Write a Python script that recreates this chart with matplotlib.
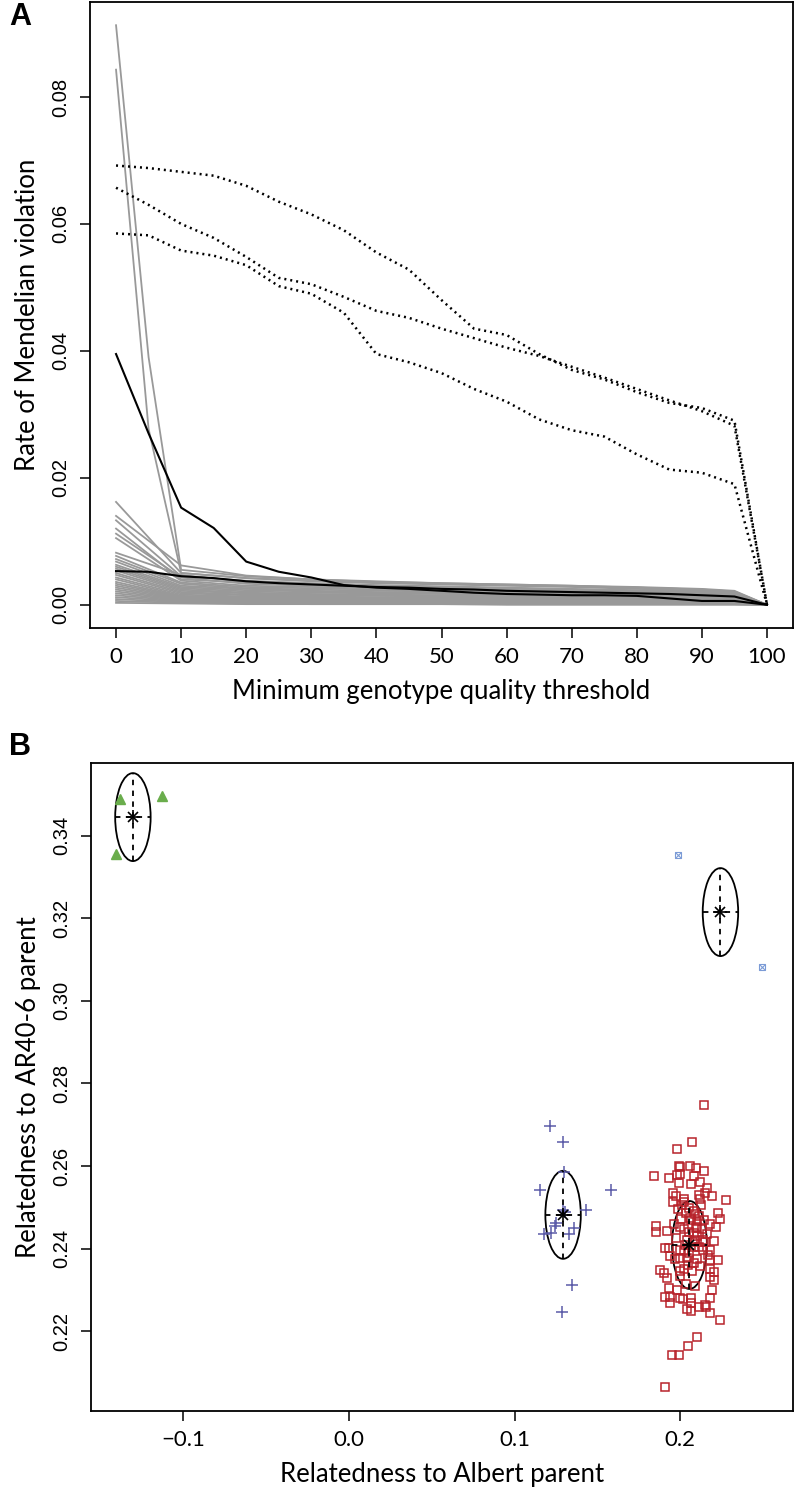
import matplotlib
matplotlib.use("Agg")
import matplotlib.pyplot as plt
from matplotlib.patches import Ellipse

# ---------------- panel A data ----------------
gq = [0, 5, 10, 15, 20, 25, 30, 35, 40, 45, 50, 55, 60, 65, 70, 75, 80, 85, 90, 95, 100]

# dotted lines
dotted_1 = [0.0692, 0.0688, 0.0682, 0.0676, 0.0660, 0.0635, 0.0615, 0.0590, 0.0555, 0.0528, 0.0480,
            0.0435, 0.0425, 0.0395, 0.0370, 0.0355, 0.0335, 0.0318, 0.0310, 0.0290, 0.0]
dotted_2 = [0.0657, 0.0630, 0.0600, 0.0578, 0.0548, 0.0515, 0.0505, 0.0485, 0.0463, 0.0452, 0.0435,
            0.0420, 0.0405, 0.0392, 0.0375, 0.0358, 0.0340, 0.0322, 0.0305, 0.0282, 0.0]
dotted_3 = [0.0585, 0.0582, 0.0558, 0.0550, 0.0535, 0.0502, 0.0490, 0.0460, 0.0395, 0.0382, 0.0365,
            0.0340, 0.0320, 0.0292, 0.0275, 0.0265, 0.0237, 0.0213, 0.0208, 0.0190, 0.0]

# black lines
black_1 = [0.0395, 0.0270, 0.0153, 0.0121, 0.0068, 0.0052, 0.0043, 0.0031, 0.0027, 0.0025, 0.0022,
           0.0019, 0.0017, 0.0016, 0.0015, 0.0015, 0.0014, 0.0010, 0.0006, 0.0006, 0.0]
black_2 = [0.0053, 0.0052, 0.0045, 0.0042, 0.0037, 0.0034, 0.0032, 0.0030, 0.0028, 0.0027, 0.0025,
           0.0024, 0.0022, 0.0021, 0.0020, 0.0019, 0.0018, 0.0017, 0.0015, 0.0013, 0.0]

# the two gray spikes
gq_spike = [0, 5, 10, 20, 30, 40, 50, 60, 70, 80, 90, 95, 100]
spike_1 = [0.0913, 0.0390, 0.0055, 0.0045, 0.0040, 0.0037, 0.0034, 0.0032, 0.0030, 0.0027, 0.0024, 0.0020, 0.0]
spike_2 = [0.0843, 0.0277, 0.0050, 0.0042, 0.0037, 0.0034, 0.0032, 0.0030, 0.0028, 0.0025, 0.0022, 0.0019, 0.0]

# remaining gray lines
gq_gray = [0, 10, 20, 30, 40, 50, 60, 70, 80, 90, 95, 100]
gray_lines = [
    [0.0162, 0.0050, 0.0042, 0.0038, 0.0035, 0.0033, 0.0031, 0.0029, 0.0027, 0.0024, 0.0021, 0],
    [0.0140, 0.0062, 0.0046, 0.0040, 0.0036, 0.0034, 0.0032, 0.0030, 0.0028, 0.0025, 0.0022, 0],
    [0.0133, 0.0045, 0.0038, 0.0034, 0.0031, 0.0029, 0.0027, 0.0025, 0.0023, 0.0021, 0.0019, 0],
    [0.0120, 0.0040, 0.0035, 0.0031, 0.0029, 0.0027, 0.0025, 0.0023, 0.0021, 0.0019, 0.0018, 0],
    [0.0112, 0.0043, 0.0033, 0.0030, 0.0028, 0.0026, 0.0024, 0.0022, 0.0020, 0.0018, 0.0017, 0],
    [0.0105, 0.0038, 0.0030, 0.0028, 0.0026, 0.0025, 0.0023, 0.0021, 0.0019, 0.0018, 0.0016, 0],
    [0.0082, 0.0047, 0.0036, 0.0032, 0.0030, 0.0028, 0.0026, 0.0024, 0.0022, 0.0020, 0.0019, 0],
    [0.0077, 0.0035, 0.0028, 0.0026, 0.0024, 0.0022, 0.0021, 0.0019, 0.0018, 0.0016, 0.0015, 0],
    [0.0072, 0.0033, 0.0026, 0.0024, 0.0022, 0.0021, 0.0019, 0.0018, 0.0016, 0.0015, 0.0014, 0],
    [0.0068, 0.0030, 0.0025, 0.0022, 0.0020, 0.0019, 0.0018, 0.0017, 0.0015, 0.0014, 0.0013, 0],
    [0.0063, 0.0028, 0.0023, 0.0021, 0.0019, 0.0018, 0.0017, 0.0016, 0.0015, 0.0013, 0.0012, 0],
    [0.0060, 0.0026, 0.0021, 0.0019, 0.0018, 0.0017, 0.0016, 0.0015, 0.0014, 0.0012, 0.0011, 0],
    [0.0057, 0.0024, 0.0019, 0.0017, 0.0016, 0.0015, 0.0014, 0.0013, 0.0012, 0.0011, 0.0010, 0],
    [0.0054, 0.0022, 0.0018, 0.0016, 0.0015, 0.0014, 0.0013, 0.0012, 0.0011, 0.0010, 0.0009, 0],
    [0.0050, 0.0020, 0.0016, 0.0015, 0.0014, 0.0013, 0.0012, 0.0011, 0.0010, 0.0009, 0.0008, 0],
    [0.0047, 0.0018, 0.0015, 0.0013, 0.0012, 0.0011, 0.0011, 0.0010, 0.0009, 0.0008, 0.0007, 0],
    [0.0043, 0.0016, 0.0013, 0.0012, 0.0011, 0.0010, 0.0010, 0.0009, 0.0008, 0.0007, 0.0007, 0],
    [0.0040, 0.0014, 0.0012, 0.0011, 0.0010, 0.0009, 0.0009, 0.0008, 0.0007, 0.0007, 0.0006, 0],
    [0.0036, 0.0013, 0.0011, 0.0010, 0.0009, 0.0008, 0.0008, 0.0007, 0.0006, 0.0006, 0.0005, 0],
    [0.0033, 0.0012, 0.0010, 0.0009, 0.0008, 0.0007, 0.0007, 0.0006, 0.0006, 0.0005, 0.0005, 0],
    [0.0030, 0.0011, 0.0009, 0.0008, 0.0007, 0.0007, 0.0006, 0.0006, 0.0005, 0.0005, 0.0004, 0],
    [0.0027, 0.0010, 0.0008, 0.0007, 0.0006, 0.0006, 0.0005, 0.0005, 0.0004, 0.0004, 0.0004, 0],
    [0.0024, 0.0009, 0.0007, 0.0006, 0.0006, 0.0005, 0.0005, 0.0004, 0.0004, 0.0003, 0.0003, 0],
    [0.0021, 0.0008, 0.0006, 0.0005, 0.0005, 0.0004, 0.0004, 0.0004, 0.0003, 0.0003, 0.0003, 0],
    [0.0018, 0.0007, 0.0005, 0.0005, 0.0004, 0.0004, 0.0003, 0.0003, 0.0003, 0.0002, 0.0002, 0],
    [0.0015, 0.0006, 0.0004, 0.0004, 0.0003, 0.0003, 0.0003, 0.0002, 0.0002, 0.0002, 0.0002, 0],
    [0.0012, 0.0005, 0.0004, 0.0003, 0.0003, 0.0002, 0.0002, 0.0002, 0.0002, 0.0001, 0.0001, 0],
    [0.0009, 0.0004, 0.0003, 0.0002, 0.0002, 0.0002, 0.0001, 0.0001, 0.0001, 0.0001, 0.0001, 0],
    [0.0006, 0.0003, 0.0002, 0.0001, 0.0001, 0.0001, 0.0001, 0.0001, 0.0001, 0.0001, 0.0001, 0],
    [0.0003, 0.0002, 0.0001, 0.0001, 0.0001, 0.0001, 0.0000, 0.0000, 0.0000, 0.0000, 0.0000, 0],
]

# ---------------- panel B data ----------------
tri_x = [-0.138, -0.113, -0.141]
tri_y = [0.3490, 0.3495, 0.3355]

boxx_x = [0.1988, 0.2490]
boxx_y = [0.3353, 0.3082]

plus_x = [0.1215, 0.1291, 0.1295, 0.1150, 0.1581, 0.1432, 0.1291, 0.1303, 0.1251, 0.1241,
          0.1174, 0.1219, 0.1355, 0.1327, 0.1343, 0.1284]
plus_y = [0.2698, 0.2658, 0.2585, 0.2542, 0.2542, 0.2494, 0.2494, 0.2490, 0.2461, 0.2455,
          0.2436, 0.2438, 0.2450, 0.2436, 0.2312, 0.2247]

sq_x = [0.2141, 0.2070, 0.1980, 0.1990, 0.1996, 0.2060, 0.2097, 0.2145, 0.1843, 0.1929,
        0.1980, 0.2000, 0.2080, 0.2117, 0.1990, 0.2064, 0.2161, 0.2151, 0.2191, 0.2111,
        0.2121, 0.1956, 0.1976, 0.2020, 0.1956, 0.2020, 0.2278, 0.2050, 0.2080, 0.2036,
        0.2091, 0.2226, 0.2238, 0.2006, 0.2064, 0.2101, 0.2101, 0.2131, 0.2181, 0.2217,
        0.1855, 0.1855, 0.1919, 0.2000, 0.2024, 0.2080, 0.2101, 0.1976, 0.2040, 0.2091,
        0.2137, 0.2201, 0.1909, 0.1929, 0.1996, 0.2024, 0.2080, 0.2137, 0.2181, 0.1939,
        0.2000, 0.1970, 0.2040, 0.2101, 0.2181, 0.2226, 0.1879, 0.1899, 0.1996, 0.2020,
        0.2070, 0.2121, 0.2181, 0.2201, 0.1919, 0.2000, 0.2181,
        0.1934, 0.1980, 0.1909, 0.1940, 0.1936, 0.1996, 0.2016, 0.2066, 0.2064, 0.2040,
        0.2064, 0.2111, 0.2151, 0.2157, 0.2177, 0.2191, 0.2201, 0.2177, 0.2242, 0.2101,
        0.2044, 0.1990, 0.1949, 0.1909,
        0.2055, 0.2075, 0.2050, 0.2085, 0.2045, 0.2110, 0.2030, 0.2095, 0.2060, 0.2115,
        0.2160, 0.2010, 0.2125, 0.1960, 0.2150, 0.2035, 0.2165, 0.1985, 0.2090, 0.2140]
sq_y = [0.2748, 0.2658, 0.2641, 0.2601, 0.2599, 0.2601, 0.2595, 0.2587, 0.2575, 0.2570,
        0.2578, 0.2581, 0.2576, 0.2562, 0.2558, 0.2556, 0.2546, 0.2534, 0.2528, 0.2530,
        0.2520, 0.2534, 0.2528, 0.2520, 0.2514, 0.2514, 0.2518, 0.2498, 0.2492, 0.2487,
        0.2484, 0.2486, 0.2471, 0.2471, 0.2469, 0.2467, 0.2453, 0.2447, 0.2460, 0.2452,
        0.2455, 0.2440, 0.2444, 0.2453, 0.2447, 0.2437, 0.2431, 0.2425, 0.2421, 0.2421,
        0.2421, 0.2419, 0.2401, 0.2401, 0.2398, 0.2394, 0.2405, 0.2397, 0.2397, 0.2382,
        0.2378, 0.2374, 0.2377, 0.2374, 0.2372, 0.2372, 0.2348, 0.2340, 0.2347, 0.2350,
        0.2347, 0.2358, 0.2352, 0.2344, 0.2328, 0.2334, 0.2332,
        0.2304, 0.2300, 0.2282, 0.2282, 0.2268, 0.2280, 0.2277, 0.2280, 0.2268, 0.2253,
        0.2250, 0.2260, 0.2264, 0.2260, 0.2280, 0.2300, 0.2324, 0.2244, 0.2227, 0.2185,
        0.2164, 0.2143, 0.2143, 0.2065,
        0.2440, 0.2415, 0.2390, 0.2365, 0.2360, 0.2405, 0.2410, 0.2450, 0.2475, 0.2480,
        0.2435, 0.2505, 0.2505, 0.2460, 0.2415, 0.2315, 0.2385, 0.2495, 0.2310, 0.2470]

# group centres and ellipse half-axes
cen_x = [-0.1305, 0.2242, 0.1292, 0.2055]
cen_y = [0.3445, 0.3215, 0.2482, 0.2409]
rad_x = [0.0107, 0.0107, 0.0107, 0.0105]
rad_y = [0.01065, 0.01065, 0.01065, 0.01065]

W, H = 794, 1496
fig = plt.figure(figsize=(W / 100, H / 100), dpi=100)

lab_font = ['Lato', 'DejaVu Sans']
num_font = ['Liberation Sans', 'DejaVu Sans']


def style_axes(ax):
    for s in ax.spines.values():
        s.set_linewidth(1.3)
    ax.tick_params(direction='out', length=7, width=1.1, pad=7)
    for t in ax.get_xticklabels():
        t.set_fontfamily(lab_font)
        t.set_fontsize(16)
    for t in ax.get_yticklabels():
        t.set_fontfamily(num_font)
        t.set_fontsize(14.5)
        t.set_rotation(90)
        t.set_va('center')


# ---------------- panel A ----------------
axA = fig.add_axes([90 / W, 1 - 628 / H, 703 / W, 626 / H])
for g in gray_lines:
    axA.plot(gq_gray, g, color='#999999', lw=1.3)
axA.plot(gq_spike, spike_1, color='#999999', lw=1.3)
axA.plot(gq_spike, spike_2, color='#999999', lw=1.3)
axA.plot(gq, black_1, color='black', lw=1.5)
axA.plot(gq, black_2, color='black', lw=1.5)
for d in (dotted_1, dotted_2, dotted_3):
    axA.plot(gq, d, color='black', lw=1.8, linestyle=(0, (0.8, 1.6)))
axA.set_xlim(-4, 104)
axA.set_ylim(-0.00366, 0.09496)
axA.set_xticks(range(0, 101, 10))
axA.set_yticks([0.0, 0.02, 0.04, 0.06, 0.08])
axA.set_yticklabels(['0.00', '0.02', '0.04', '0.06', '0.08'])
style_axes(axA)
axA.set_xlabel('Minimum genotype quality threshold', fontsize=18.5, family=lab_font, labelpad=8)
axA.set_ylabel('Rate of Mendelian violation', fontsize=18.5, family=lab_font, labelpad=8)

# ---------------- panel B ----------------
axB = fig.add_axes([91 / W, 1 - 1411 / H, 702 / W, 648 / H])
axB.plot(sq_x, sq_y, linestyle='none', marker='s', ms=6.2, mfc='none', mec='#b8232b', mew=1.1)
axB.plot(plus_x, plus_y, linestyle='none', marker='+', ms=9, mec='#5b5ba8', mew=1.1)
axB.plot(tri_x, tri_y, linestyle='none', marker='^', ms=7.5, mfc='#6aad4c', mec='#6aad4c')
axB.plot(boxx_x, boxx_y, linestyle='none', marker='s', ms=4.2, mfc='none', mec='#7b9bd6', mew=0.8)
axB.plot(boxx_x, boxx_y, linestyle='none', marker='x', ms=4.2, mec='#7b9bd6', mew=0.8)

for cx, cy, rx, ry in zip(cen_x, cen_y, rad_x, rad_y):
    axB.add_patch(Ellipse((cx, cy), 2 * rx, 2 * ry, fill=False, ec='black', lw=1.3))
    axB.plot([cx, cx], [cy - ry, cy + ry], color='black', lw=1.3, linestyle=(0, (3, 3)))
    axB.plot([cx - rx, cx + rx], [cy, cy], color='black', lw=1.3, linestyle=(0, (3, 3)))
axB.plot(cen_x, cen_y, linestyle='none', marker='+', ms=10, mec='black', mew=1.2)
axB.plot(cen_x, cen_y, linestyle='none', marker='x', ms=7, mec='black', mew=1.2)

axB.set_xlim(-0.1558, 0.268)
axB.set_ylim(0.2007, 0.3576)
axB.set_xticks([-0.1, 0.0, 0.1, 0.2])
axB.set_xticklabels(['\u22120.1', '0.0', '0.1', '0.2'])
axB.set_yticks([0.22, 0.24, 0.26, 0.28, 0.30, 0.32, 0.34])
axB.set_yticklabels(['0.22', '0.24', '0.26', '0.28', '0.30', '0.32', '0.34'])
style_axes(axB)
axB.set_xlabel('Relatedness to Albert parent', fontsize=18.5, family=lab_font, labelpad=8)
axB.set_ylabel('Relatedness to AR40-6 parent', fontsize=18.5, family=lab_font, labelpad=8)

fig.text(9 / W, 1 - 17 / H, 'A', fontsize=22, weight='bold', family=num_font, va='center')
fig.text(9 / W, 1 - 747 / H, 'B', fontsize=22, weight='bold', family=num_font, va='center')

fig.savefig('out.png', dpi=100)
